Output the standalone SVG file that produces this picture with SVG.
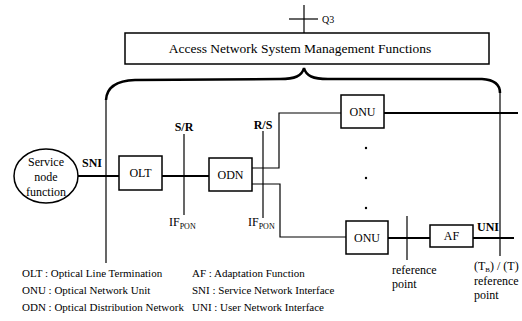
<svg xmlns="http://www.w3.org/2000/svg" width="522" height="321" viewBox="0 0 522 321" font-family="'Liberation Serif', 'DejaVu Serif', serif">
<style>
.bg{fill:#fff}
.box{fill:#fff;stroke:#000;stroke-width:1.5}
.ln{fill:none;stroke:#000;stroke-width:1.2}
.thk{fill:none;stroke:#000;stroke-width:2.2}
.brace{fill:none;stroke:#000;stroke-width:2.5}
.lbl{font-size:12px}
.c{text-anchor:middle}
.b{font-weight:bold}
.leg{font-size:11px}
</style>
<rect class="bg" x="0" y="0" width="522" height="321"/>
<g id="connectors">
  <line class="ln" x1="304" y1="5" x2="304" y2="33"/>
  <line class="ln" x1="289" y1="19" x2="318" y2="19"/>
  <path class="brace" d="M106,100 Q107,81 135,80 L280,79 C295,79 302,76 304,68 C306,76 313,79 328,79 L482,79 Q500,80 500,93"/>
  <line class="ln" x1="106" y1="100" x2="106" y2="263"/>
  <line class="ln" x1="500" y1="93" x2="500" y2="256"/>
  <line class="thk" x1="78" y1="176" x2="119" y2="176"/>
  <line class="thk" x1="162" y1="176" x2="209" y2="176"/>
  <line class="ln" x1="184" y1="134" x2="184" y2="215"/>
  <polyline class="ln" points="252,168 279,168 279,113 341,113"/>
  <polyline class="ln" points="252,184 280,184 280,237 346,237"/>
  <line class="ln" x1="263" y1="131" x2="263" y2="218"/>
  <line class="thk" x1="384" y1="113" x2="518" y2="113"/>
  <line class="thk" x1="388" y1="238" x2="430" y2="238"/>
  <line class="ln" x1="407" y1="216" x2="407" y2="260"/>
  <line class="thk" x1="473" y1="238" x2="514" y2="238"/>
</g>
<g id="mgmt">
  <rect class="box" x="125" y="33" width="364" height="31"/>
  <text class="c" x="300" y="53" font-size="13.5">Access Network System Management Functions</text>
  <text x="322" y="23" font-size="10">Q3</text>
</g>
<g id="snf">
  <ellipse class="box" cx="46" cy="176" rx="32" ry="27"/>
  <text class="lbl c" x="46" y="166">Service</text>
  <text class="lbl c" x="46" y="181">node</text>
  <text class="lbl c" x="46" y="196">function</text>
</g>
<g id="olt">
  <rect class="box" x="119" y="156" width="43" height="34"/>
  <text class="lbl c" x="140.5" y="177">OLT</text>
</g>
<g id="odn">
  <rect class="box" x="209" y="158" width="43" height="33"/>
  <text class="lbl c" x="230.5" y="179">ODN</text>
</g>
<g id="onu1">
  <rect class="box" x="341" y="95" width="43" height="33"/>
  <text class="lbl c" x="362.5" y="116">ONU</text>
</g>
<g id="dots">
  <circle cx="366" cy="148" r="1.2"/>
  <circle cx="366" cy="178" r="1.2"/>
  <circle cx="366" cy="208" r="1.2"/>
</g>
<g id="onu2">
  <rect class="box" x="346" y="221" width="42" height="33"/>
  <text class="lbl c" x="367" y="242">ONU</text>
</g>
<g id="af">
  <rect class="box" x="430" y="225" width="43" height="22"/>
  <text class="lbl c" x="451.5" y="240">AF</text>
</g>
<g id="labels">
  <text class="lbl b" x="82" y="167">SNI</text>
  <text class="lbl b c" x="184" y="131">S/R</text>
  <text class="lbl" x="169" y="226">IF<tspan font-size="8" dy="3">PON</tspan></text>
  <text class="lbl b c" x="263" y="129">R/S</text>
  <text class="lbl" x="248" y="226">IF<tspan font-size="8" dy="3">PON</tspan></text>
  <text class="lbl b" x="477" y="231">UNI</text>
  <text class="lbl" x="392" y="274">reference</text>
  <text class="lbl" x="392" y="288">point</text>
  <text class="lbl" x="474" y="270">(T<tspan font-size="7" dy="2">B</tspan><tspan dy="-2">) / (T)</tspan></text>
  <text class="lbl" x="474" y="285">reference</text>
  <text class="lbl" x="474" y="299">point</text>
</g>
<g id="legend">
  <text class="leg" x="22" y="277">OLT : Optical Line Termination</text>
  <text class="leg" x="22" y="294">ONU : Optical Network Unit</text>
  <text class="leg" x="22" y="311">ODN : Optical Distribution Network</text>
  <text class="leg" x="192" y="277">AF : Adaptation Function</text>
  <text class="leg" x="192" y="294">SNI : Service Network Interface</text>
  <text class="leg" x="192" y="311">UNI : User Network Interface</text>
</g>
</svg>
